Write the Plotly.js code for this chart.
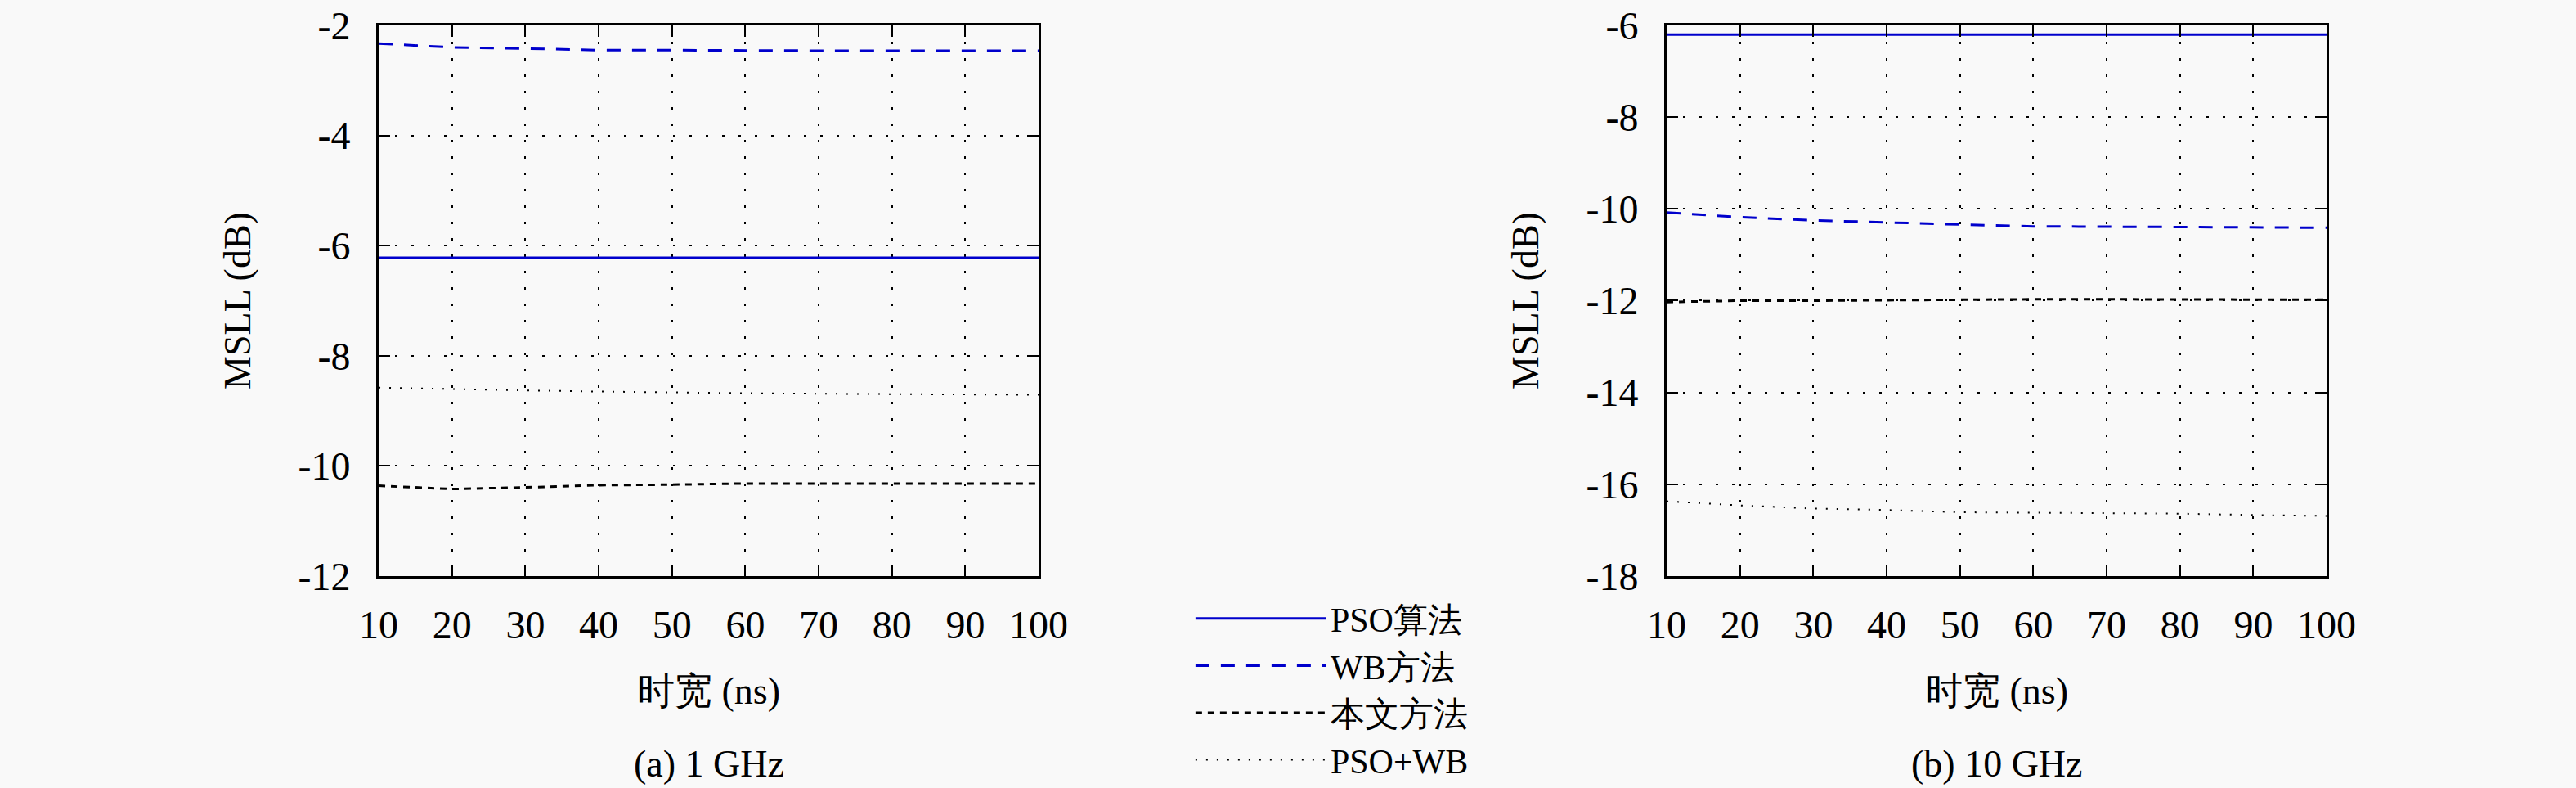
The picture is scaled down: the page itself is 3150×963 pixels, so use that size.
<!DOCTYPE html>
<html>
<head>
<meta charset="utf-8">
<script src="https://cdn.plot.ly/plotly-3.0.1.min.js"></script>
<style>html,body{margin:0;padding:0;background:#f9f9f9;}</style>
</head>
<body>
<div id="chart" style="width:3150px;height:963px;"></div>
<script>
// ---- data ----
const widthNs = [10, 20, 30, 40, 50, 60, 70, 80, 90, 100];
const seriesNames = ['PSO算法', 'WB方法', '本文方法', 'PSO+WB'];

// (a) 1 GHz
const pso1GHz    = [-6.22, -6.22, -6.22, -6.22, -6.22, -6.22, -6.22, -6.22, -6.22, -6.22];
const wb1GHz     = [-2.33, -2.40, -2.42, -2.45, -2.45, -2.46, -2.46, -2.46, -2.46, -2.46];
const ours1GHz   = [-10.36, -10.42, -10.39, -10.35, -10.34, -10.32, -10.32, -10.32, -10.32, -10.32];
const psoWb1GHz  = [-8.58, -8.61, -8.63, -8.65, -8.67, -8.68, -8.69, -8.70, -8.70, -8.71];

// (b) 10 GHz
const pso10GHz   = [-6.20, -6.20, -6.20, -6.20, -6.20, -6.20, -6.20, -6.20, -6.20, -6.20];
const wb10GHz    = [-10.08, -10.18, -10.25, -10.30, -10.34, -10.38, -10.39, -10.39, -10.40, -10.41];
const ours10GHz  = [-12.03, -12.00, -12.00, -11.99, -11.97, -11.97, -11.97, -11.97, -11.97, -11.98];
const psoWb10GHz = [-16.37, -16.46, -16.53, -16.56, -16.61, -16.62, -16.63, -16.64, -16.67, -16.69];

const xTickVals = [10, 20, 30, 40, 50, 60, 70, 80, 90, 100];
const xTickText = ['10', '20', '30', '40', '50', '60', '70', '80', '90', '100'];
const y1TickVals = [-12, -10, -8, -6, -4, -2];
const y1TickText = ['-12', '-10', '-8', '-6', '-4', '-2'];
const y2TickVals = [-18, -16, -14, -12, -10, -8, -6];
const y2TickText = ['-18', '-16', '-14', '-12', '-10', '-8', '-6'];

const xTitle = '时宽 (ns)';
const yTitle = 'MSLL (dB)';
const captionA = '(a) 1 GHz';
const captionB = '(b) 10 GHz';

// ---- styles ----
const FONT = 'Liberation Serif, serif';
const BLUE = '#0000cc';
const styles = [
  {color: BLUE, width: 3, dash: 'solid'},
  {color: BLUE, width: 3, dash: '17px,14px'},
  {color: '#000000', width: 3, dash: '8px,7px'},
  {color: '#000000', width: 2, dash: '2px,11px'}
];

const set1 = [pso1GHz, wb1GHz, ours1GHz, psoWb1GHz];
const set2 = [pso10GHz, wb10GHz, ours10GHz, psoWb10GHz];

const traces = [];
set1.forEach((ys, i) => traces.push({
  x: widthNs, y: ys, type: 'scatter', mode: 'lines', name: seriesNames[i],
  line: styles[i], xaxis: 'x', yaxis: 'y', showlegend: true, legendrank: i + 1
}));
set2.forEach((ys, i) => traces.push({
  x: widthNs, y: ys, type: 'scatter', mode: 'lines', name: seriesNames[i],
  line: styles[i], xaxis: 'x2', yaxis: 'y2', showlegend: false
}));

function fnt(size) { return {family: FONT, size: size, color: '#000'}; }

function xAxis(domain, anchor) {
  return {
    domain: domain, anchor: anchor, range: [10, 100], automargin: false,
    tickmode: 'array', tickvals: xTickVals, ticktext: xTickText,
    ticks: 'inside', ticklen: 14, tickwidth: 2, tickcolor: '#000',
    showline: true, linewidth: 3, linecolor: '#000', mirror: 'ticks',
    showgrid: true, gridcolor: '#000', gridwidth: 2, griddash: '3px,17px',
    zeroline: false, fixedrange: true,
    tickfont: fnt(48),
    ticklabelstandoff: 15,
    title: {text: xTitle, font: fnt(46), standoff: 40}
  };
}
function yAxis(domain, anchor, range, vals, text) {
  return {
    domain: domain, anchor: anchor, range: range, automargin: false,
    tickmode: 'array', tickvals: vals, ticktext: text,
    ticks: 'inside', ticklen: 14, tickwidth: 2, tickcolor: '#000',
    showline: true, linewidth: 3, linecolor: '#000', mirror: 'ticks',
    showgrid: true, gridcolor: '#000', gridwidth: 2, griddash: '3px,17px',
    zeroline: false, fixedrange: true,
    tickfont: fnt(48),
    ticklabelstandoff: 22,
    title: {text: yTitle, font: fnt(46), standoff: 44}
  };
}

const layout = {
  width: 3150, height: 963,
  margin: {l: 0, r: 0, t: 0, b: 0},
  paper_bgcolor: '#f9f9f9', plot_bgcolor: '#f9f9f9',
  font: fnt(46),
  xaxis: xAxis([0.147, 0.4032], 'y'),
  yaxis: yAxis([0.269, 0.9678], 'x', [-12, -2], y1TickVals, y1TickText),
  xaxis2: xAxis([0.647, 0.9032], 'y2'),
  yaxis2: yAxis([0.269, 0.9678], 'x2', [-18, -6], y2TickVals, y2TickText),
  showlegend: true,
  legend: {
    x: 0.4625, y: 0.0, xanchor: 'left', yanchor: 'bottom',
    bgcolor: 'rgba(0,0,0,0)', borderwidth: 0,
    font: fnt(42),
    itemwidth: 160, tracegroupgap: 0
  },
  annotations: [
    {text: captionA, xref: 'paper', yref: 'paper', x: (0.147 + 0.4032) / 2, y: 30 / 963,
     xanchor: 'center', yanchor: 'middle', showarrow: false, font: fnt(46)},
    {text: captionB, xref: 'paper', yref: 'paper', x: (0.647 + 0.9032) / 2, y: 30 / 963,
     xanchor: 'center', yanchor: 'middle', showarrow: false, font: fnt(46)}
  ]
};

Plotly.newPlot('chart', traces, layout, {staticPlot: true, displayModeBar: false});
</script>
</body>
</html>
